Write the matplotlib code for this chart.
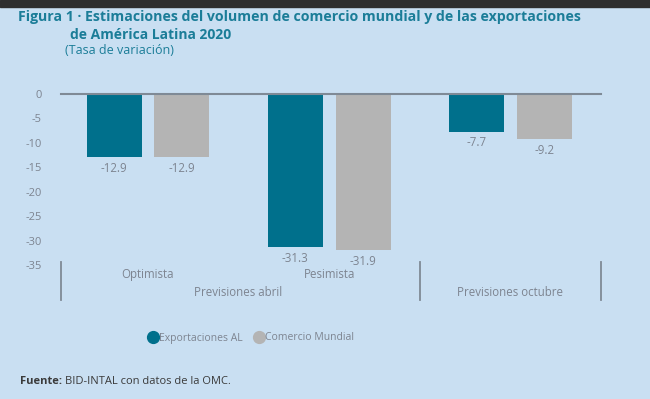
import matplotlib.pyplot as plt
import matplotlib.transforms as mtransforms
from matplotlib.lines import Line2D
from matplotlib.patches import Rectangle

# data
scenarios = ["Optimista", "Pesimista", "Previsiones octubre"]
exportaciones_al = [-12.9, -31.3, -7.7]
comercio_mundial = [-12.9, -31.9, -9.2]
yticks = [0, -5, -10, -15, -20, -25, -30, -35]

BG = "#c9dff2"
TEAL = "#00708c"
GRAY = "#b4b4b4"
TXT = "#7d8490"
TITLE = "#1b7d98"

plt.rcParams['font.family'] = ['Open Sans', 'DejaVu Sans']

fig = plt.figure(figsize=(6.5, 3.99), dpi=100, facecolor=BG)
ax = fig.add_axes([61/650, 1-265/399, 540/650, 171/399])
ax.set_facecolor(BG)

# dark strip at the top of the screenshot
fig.patches.append(Rectangle((0, 1-7/399), 1, 7/399, transform=fig.transFigure,
                             color="#2e2e2e", zorder=0))

x = range(len(scenarios))
w = 0.303
off = 0.187
b1 = ax.bar([i - off for i in x], exportaciones_al, w, color=TEAL)
b2 = ax.bar([i + off for i in x], comercio_mundial, w, color=GRAY)
for bars, vals in ((b1, exportaciones_al), (b2, comercio_mundial)):
    for bar, v in zip(bars, vals):
        ax.annotate(f"{v:.1f}", (bar.get_x() + bar.get_width()/2, v),
                    xytext=(0, -3.5), textcoords="offset points",
                    ha="center", va="top", fontsize=8.3, color=TXT)

ax.axhline(0, color="#7f8a96", lw=1.5, clip_on=False, zorder=3)
ax.set_xlim(-0.48, 2.5)
ax.set_ylim(-35, 0)
ax.set_yticks(yticks)
ax.set_yticklabels([str(t) for t in yticks])
ax.tick_params(axis="y", length=0, pad=14, labelsize=8, labelcolor=TXT)
ax.set_xticks([])
for s in ax.spines.values():
    s.set_visible(False)

# category axis drawn by hand
tr = mtransforms.blended_transform_factory(ax.transData, ax.transAxes)
for sx in (-0.48, 1.5, 2.5):
    ax.plot([sx, sx], [0.018, -0.205], color="#7f8a96", lw=1.3,
            transform=tr, clip_on=False)
ax.text(0, -0.058, scenarios[0], transform=tr, ha="center", va="center",
        fontsize=8.3, color=TXT)
ax.text(1, -0.058, scenarios[1], transform=tr, ha="center", va="center",
        fontsize=8.3, color=TXT)
ax.text(0.5, -0.158, "Previsiones abril", transform=tr, ha="center",
        va="center", fontsize=8.3, color=TXT)
ax.text(2, -0.158, scenarios[2], transform=tr, ha="center", va="center",
        fontsize=8.3, color=TXT)

# legend
handles = [
    Line2D([], [], ls="", marker="o", ms=8.5, color=TEAL),
    Line2D([], [], ls="", marker="o", ms=8.5, color=GRAY),
]
leg = fig.legend(handles, ["Exportaciones AL", "Comercio Mundial"],
                 loc="center", bbox_to_anchor=(251/650, 1-338/399), ncols=2,
                 frameon=False, fontsize=7.5, handletextpad=0.1,
                 columnspacing=1.0, handlelength=1.0)
for t in leg.get_texts():
    t.set_color(TXT)

# titles
fig.text(18/650, 1-17/399,
         "Figura 1 · Estimaciones del volumen de comercio mundial y de las exportaciones",
         ha="left", va="center", fontsize=10.2, fontweight="bold", color=TITLE)
fig.text(70/650, 1-35/399, "de América Latina 2020", ha="left", va="center",
         fontsize=10, fontweight="bold", color=TITLE)
fig.text(65/650, 1-51/399, "(Tasa de variación)", ha="left", va="center",
         fontsize=9, color=TITLE)

# source note
src = fig.text(20/650, 1-381/399, "Fuente:", ha="left", va="center",
               fontsize=8, fontweight="bold", color="#3a3a3a")
fig.canvas.draw()
bb = src.get_window_extent()
fig.text((bb.x1 + 3)/650, 1-381/399, "BID-INTAL con datos de la OMC.",
         ha="left", va="center", fontsize=8, color="#3a3a3a")

fig.savefig("out.png", dpi=100, facecolor=BG)
